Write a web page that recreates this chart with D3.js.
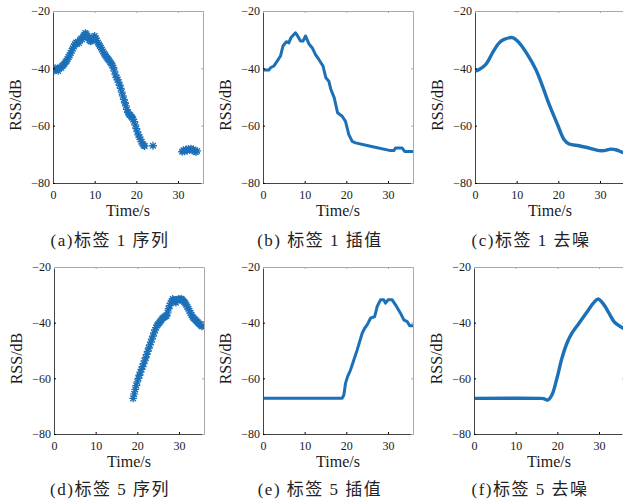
<!DOCTYPE html>
<html>
<head>
<meta charset="utf-8">
<script src="https://cdn.jsdelivr.net/npm/d3@7"></script>
<style>
  body { margin: 0; background: #fff; }
  svg { display: block; }
  .tick text { font-family: "Liberation Serif", "Times New Roman", "DejaVu Serif", serif; font-size: 12px; fill: #1a1a1a; }
</style>
</head>
<body>
<div id="chart"></div>
<script>
const width = 623;
const height = 501;
const plotW = 150;
const blue = "#1b70b8";
const serif = "'Liberation Serif', 'Times New Roman', 'DejaVu Serif', serif";

const xTicks = [0, 10, 20, 30];
const yTicks = [-20, -40, -60, -80];
const captions = [
  "(a)标签 1 序列", "(b) 标签 1 插值", "(c)标签 1 去噪",
  "(d)标签 5 序列", "(e) 标签 5 插值", "(f)标签 5 去噪",
];

// tag 1, raw sequence (scatter)
const seqTime1 = [
  0, 0.25, 0.5, 0.75, 1, 1.25, 1.5, 1.75, 2, 2.25, 2.5, 2.75, 3, 3.25, 3.5, 3.75,
  4, 4.25, 4.5, 4.75, 5, 5.25, 5.5, 5.75, 6, 6.25, 6.5, 6.75, 7, 7.25, 7.5, 7.75,
  8, 8.25, 8.5, 8.75, 9, 9.25, 9.5, 9.75, 10, 10.25, 10.5, 10.75, 11, 11.25, 11.5, 11.75,
  12, 12.25, 12.5, 12.75, 13, 13.25, 13.5, 13.75, 14, 14.25, 14.5, 14.75, 15, 15.25, 15.5, 15.75,
  16, 16.25, 16.5, 16.75, 17, 17.25, 17.5, 17.75, 18, 18.25, 18.5, 18.75, 19, 19.25, 19.5, 19.75,
  20, 20.25, 20.5, 20.75, 21, 21.25, 21.5, 21.75, 22, 24,
  31, 31.3, 31.6, 31.9, 32.2, 32.5, 32.8, 33.1, 33.4, 33.7, 34, 34.3, 34.6,
];
const seqRss1 = [
  -40.2, -40.8, -39.9, -40.6, -40.3, -40.9, -40.0, -39.6, -39.9, -39.2, -38.8, -38.4, -37.9, -37.4, -36.8, -36.0,
  -35.4, -34.6, -33.9, -33.0, -32.4, -31.6, -31.0, -31.4, -30.8, -31.2, -30.1, -29.6, -29.9, -28.9, -28.3, -27.7,
  -28.1, -28.6, -29.4, -30.2, -30.6, -30.3, -29.8, -29.1, -28.7, -29.5, -30.3, -31.0, -31.6, -32.2, -32.8, -33.5,
  -34.1, -34.8, -35.3, -35.9, -36.4, -36.8, -37.3, -37.9, -38.4, -39.0, -39.8, -41.0, -42.3, -43.2, -44.0, -44.8,
  -45.9, -47.0, -48.3, -49.6, -50.8, -52.0, -53.1, -54.4, -55.4, -56.0, -56.3, -56.8, -57.2, -57.8, -58.6, -59.8,
  -61.0, -62.2, -63.2, -64.0, -64.8, -65.6, -66.3, -66.9, -67.1, -67.0,
  -69.1, -68.6, -69.0, -68.3, -68.7, -68.1, -68.5, -68.0, -68.6, -68.3, -68.9, -69.2, -68.8,
];

// tag 1, interpolated
const interpTime1 = [
  0, 1.4, 1.8, 2.6, 3.4, 4.2, 4.8, 5.6, 6.2, 6.7, 7.8, 8.3, 9, 9.6, 10.2, 11, 11.8, 12.6,
  13.4, 14.4, 15.1, 15.8, 16.3, 17.1, 17.9, 19, 19.8, 20.6, 21.4, 22.2, 25.8, 30.6, 31.4,
  31.8, 33.4, 34, 36,
];
const interpRss1 = [
  -40.6, -40.6, -39.8, -39.2, -37.5, -35.7, -32.2, -30.7, -31.1, -29.3, -27.6, -28.7, -30.5, -30.5, -28.7, -31.4, -32.8, -35.2,
  -36.9, -39.2, -43.3, -44.5, -47.4, -50.3, -55.5, -56.7, -58.5, -63.1, -65.5, -66, -67.2, -68.7, -68.7,
  -67.8, -67.8, -69, -69,
];

// tag 1, denoised
const denoiseTime1 = [0, 1, 2.6, 4.2, 5.8, 7, 9, 10.6, 12.6, 14.6, 16.2, 17.8, 19.8, 21.4, 22.6, 25, 27.4, 29.8, 31, 32.6, 33.8, 35.4, 36];
const denoiseRss1 = [-41, -40.4, -38.6, -34.6, -31.1, -29.9, -29.3, -31.1, -35.2, -40.4, -46.2, -52.6, -59.6, -64.9, -66.4, -67, -67.8, -68.7, -68.7, -68.2, -68.4, -69.3, -69.5];

// tag 5, raw sequence (scatter)
const seqTime5 = [
  19, 19.25, 19.5, 19.75, 20, 20.25, 20.5, 20.75, 21, 21.25, 21.5, 21.75, 22, 22.25, 22.5, 22.75,
  23, 23.25, 23.5, 23.75, 24, 24.25, 24.5, 24.75, 25, 25.25, 25.5, 25.75, 26, 26.25, 26.5, 26.75,
  27, 27.25, 27.5, 27.75, 28, 28.25, 28.5, 28.75, 29, 29.25, 29.5, 29.75, 30, 30.25, 30.5, 30.75,
  31, 31.25, 31.5, 31.75, 32, 32.25, 32.5, 32.75, 33, 33.25, 33.5, 33.75, 34, 34.25, 34.5, 34.75,
  35, 35.25, 35.5, 35.75, 36,
];
const seqRss5 = [
  -67.2, -65.6, -64.0, -62.6, -61.3, -60.0, -58.9, -57.8, -56.8, -55.8, -54.7, -53.7, -52.6, -51.4, -50.3, -49.1,
  -48.0, -47.0, -45.9, -44.8, -43.7, -42.6, -41.8, -41.0, -40.6, -40.0, -39.6, -39.1, -38.5, -38.2, -38.0, -37.7,
  -37.6, -36.5, -35.0, -33.9, -33.0, -32.2, -31.5, -31.8, -32.3, -32.8, -32.0, -31.6, -31.5, -31.8, -31.4, -31.7,
  -32.1, -32.6, -33.0, -33.6, -34.3, -35.0, -35.7, -36.5, -37.2, -37.9, -38.4, -38.7, -39.1, -39.5, -39.9, -40.3,
  -40.6, -41.0, -41.3, -41.1, -40.8,
];

// tag 5, interpolated
const interpTime5 = [0, 19, 19.4, 19.8, 20.3, 21, 21.8, 22.6, 23.2, 23.8, 24.4, 25, 25.8, 26.8, 27.4, 28.2, 29, 29.4, 30, 31, 31.8, 33, 33.8, 34.6, 35.2, 36];
const interpRss5 = [-67.2, -67.2, -66, -61.8, -59.4, -57, -53.4, -49.8, -46.8, -43.8, -42, -40.8, -38.4, -37.8, -34.2, -31.8, -31.8, -33, -31.8, -31.8, -33.6, -36.6, -39, -39.6, -41.1, -41.1];

// tag 5, denoised
const denoiseTime5 = [0, 15.9, 16.7, 17.7, 18.7, 19.9, 21.1, 22.3, 23.5, 25.2, 27.2, 28.8, 29.8, 31.2, 32.4, 33.6, 34.8, 35.8, 36];
const denoiseRss5 = [-67.2, -67.2, -67.3, -67.8, -66, -60, -52.8, -47.4, -43.8, -40.2, -36, -32.7, -31.5, -33.6, -36.6, -39.6, -41.1, -42, -42.3];

const panels = [
  { left: 53, top: 11, h: 172, kind: "scatter", t: seqTime1, v: seqRss1, cap: captions[0], capX: 110, capY: 246 },
  { left: 263, top: 11, h: 172, kind: "step", t: interpTime1, v: interpRss1, cap: captions[1], capX: 320, capY: 246 },
  { left: 475, top: 11, h: 172, kind: "smooth", t: denoiseTime1, v: denoiseRss1, cap: captions[2], capX: 531, capY: 246 },
  { left: 54, top: 267, h: 167, kind: "scatter", t: seqTime5, v: seqRss5, cap: captions[3], capX: 110, capY: 495 },
  { left: 263, top: 267, h: 167, kind: "step", t: interpTime5, v: interpRss5, cap: captions[4], capX: 320, capY: 495 },
  { left: 474, top: 267, h: 167, kind: "smooth", t: denoiseTime5, v: denoiseRss5, cap: captions[5], capX: 530, capY: 495 },
];

const svg = d3
  .select("#chart")
  .append("svg")
  .attr("width", width)
  .attr("height", height);

svg.append("rect").attr("width", width).attr("height", height).attr("fill", "#fff");

// matlab style '*' marker
const asterisk = (r) => {
  const d = r * 0.72;
  return `M${-r},0H${r}M0,${-r}V${r}M${-d},${-d}L${d},${d}M${-d},${d}L${d},${-d}`;
};

panels.forEach((p, i) => {
  const x = d3.scaleLinear().domain([0, 36]).range([0, plotW]);
  const y = d3.scaleLinear().domain([-80, -20]).range([p.h, 0]);
  const g = svg.append("g").attr("transform", `translate(${p.left},${p.top})`);

  g.append("clipPath")
    .attr("id", `clip${i}`)
    .append("rect")
    .attr("width", plotW)
    .attr("height", p.h);

  const points = p.t.map((t, j) => ({ t, v: p.v[j] }));
  const body = g.append("g").attr("clip-path", `url(#clip${i})`);

  if (p.kind === "scatter") {
    body
      .selectAll("path")
      .data(points)
      .enter()
      .append("path")
      .attr("transform", (d) => `translate(${x(d.t)},${y(d.v)})`)
      .attr("d", asterisk(3.9))
      .attr("fill", "none")
      .attr("stroke", blue)
      .attr("stroke-width", 1.3);
  } else {
    const line = d3
      .line()
      .x((d) => x(d.t))
      .y((d) => y(d.v))
      .curve(p.kind === "smooth" ? d3.curveCatmullRom.alpha(0.5) : d3.curveLinear);
    body
      .append("path")
      .datum(points)
      .attr("d", line)
      .attr("fill", "none")
      .attr("stroke", blue)
      .attr("stroke-width", p.kind === "smooth" ? 3.4 : 3)
      .attr("stroke-linejoin", "round");
  }

  // box + inward ticks
  const xAxis = d3.axisBottom(x).tickValues(xTicks).tickSizeInner(-2).tickSizeOuter(0).tickPadding(7);
  const yAxis = d3.axisLeft(y).tickValues(yTicks).tickSizeInner(-2).tickSizeOuter(0).tickPadding(3);

  g.append("g")
    .attr("transform", `translate(0,${p.h})`)
    .call(xAxis)
    .attr("font-family", null)
    .call((a) => a.select(".domain").attr("stroke", "#444"));
  g.append("g")
    .call(yAxis)
    .attr("font-family", null)
    .call((a) => a.select(".domain").attr("stroke", "#444"));
  g.append("g")
    .call(d3.axisTop(x).tickValues(xTicks).tickSizeInner(-2).tickSizeOuter(0).tickFormat(""))
    .call((a) => a.selectAll("path, line").attr("stroke", "#aaa"));
  g.append("g")
    .attr("transform", `translate(${plotW},0)`)
    .call(d3.axisRight(y).tickValues(yTicks).tickSizeInner(-2).tickSizeOuter(0).tickFormat(""))
    .call((a) => a.selectAll("path, line").attr("stroke", "#aaa"));

  g.append("text")
    .attr("x", plotW / 2)
    .attr("y", p.h + 32.5)
    .attr("text-anchor", "middle")
    .style("font-family", serif)
    .style("font-size", "16px")
    .style("fill", "#1a1a1a")
    .text("Time/s");

  g.append("text")
    .attr("text-anchor", "middle")
    .attr("transform", `translate(${-32},${p.h / 2 + 8}) rotate(-90)`)
    .style("font-family", serif)
    .style("font-size", "16px")
    .style("fill", "#1a1a1a")
    .text("RSS/dB");

  svg
    .append("text")
    .attr("x", p.capX)
    .attr("y", p.capY)
    .attr("text-anchor", "middle")
    .attr("xml:space", "preserve")
    .style("font-family", "'Liberation Serif', 'Noto Sans CJK SC', serif")
    .style("font-size", "17px")
    .style("letter-spacing", "1.5px")
    .style("fill", "#222")
    .text(p.cap);
});
</script>
</body>
</html>
